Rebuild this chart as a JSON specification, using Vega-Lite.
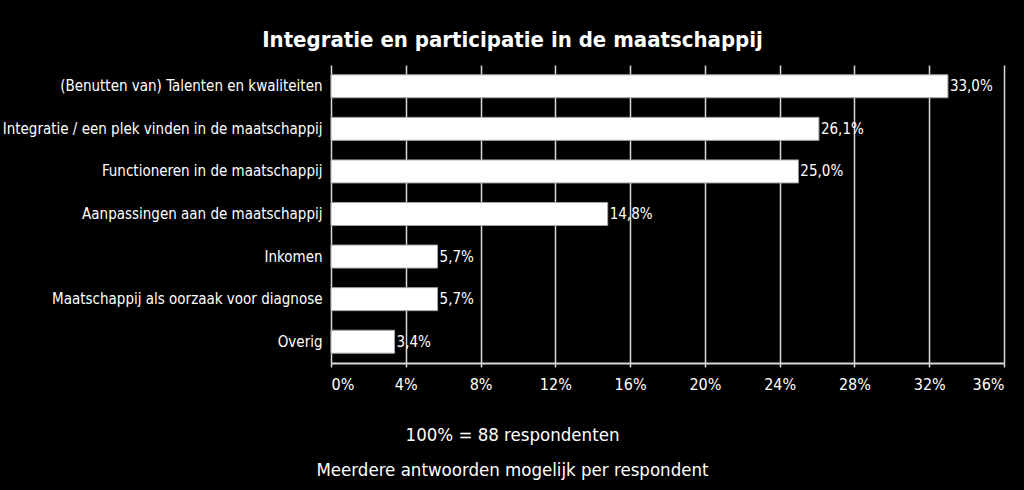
{
  "$schema": "https://vega.github.io/schema/vega-lite/v6.json",
  "width": 673,
  "height": 298,
  "autosize": {"type": "none"},
  "padding": {"left": 331, "top": 65, "right": 20, "bottom": 127},
  "background": "#000000",
  "config": {
    "view": {"stroke": null},
    "font": "DejaVu Sans Condensed, Liberation Sans, sans-serif",
    "locale": {"number": {"decimal": ",", "thousands": ".", "grouping": [3], "currency": ["€", ""]}}
  },
  "title": {
    "text": "Integratie en participatie in de maatschappij",
    "color": "#ffffff",
    "fontSize": 22,
    "fontWeight": "bold",
    "font": "DejaVu Sans Condensed, Liberation Sans, sans-serif",
    "anchor": "middle",
    "dx": -155,
    "offset": 13
  },
  "data": {
    "values": [
      {"categorie": "(Benutten van) Talenten en kwaliteiten", "aandeel": 0.330},
      {"categorie": "Integratie / een plek vinden in de maatschappij", "aandeel": 0.261},
      {"categorie": "Functioneren in de maatschappij", "aandeel": 0.250},
      {"categorie": "Aanpassingen aan de maatschappij", "aandeel": 0.148},
      {"categorie": "Inkomen", "aandeel": 0.057},
      {"categorie": "Maatschappij als oorzaak voor diagnose", "aandeel": 0.057},
      {"categorie": "Overig", "aandeel": 0.034}
    ]
  },
  "encoding": {
    "y": {
      "field": "categorie",
      "type": "nominal",
      "sort": null,
      "scale": {"paddingInner": 0.46, "paddingOuter": 0.23},
      "axis": {
        "title": null,
        "ticks": false,
        "domain": false,
        "labelColor": "#ffffff",
        "labelFontSize": 15,
        "labelPadding": 9,
        "labelLimit": 400
      }
    },
    "x": {
      "field": "aandeel",
      "type": "quantitative",
      "scale": {"domain": [0, 0.36], "nice": false},
      "axis": {
        "values": [0, 0.04, 0.08, 0.12, 0.16, 0.2, 0.24, 0.28, 0.32, 0.36],
        "format": ".0%",
        "grid": true,
        "gridColor": "#d9d9d9",
        "gridWidth": 1.5,
        "domainColor": "#d9d9d9",
        "domainWidth": 2,
        "tickColor": "#d9d9d9",
        "tickSize": 4,
        "tickWidth": 1.5,
        "labelColor": "#ffffff",
        "labelFontSize": 16,
        "labelPadding": 9,
        "title": ["100% = 88 respondenten", "Meerdere antwoorden mogelijk per respondent"],
        "titleColor": "#ffffff",
        "titleFontSize": 18.5,
        "titleFontWeight": "normal",
        "titleLineHeight": 35,
        "titleX": 181,
        "titleY": 77,
        "titleBaseline": "alphabetic",
        "titleAlign": "center"
      }
    }
  },
  "layer": [
    {
      "mark": {"type": "bar", "color": "#ffffff", "stroke": "#a6a6a6", "strokeWidth": 1}
    },
    {
      "mark": {"type": "text", "align": "left", "baseline": "middle", "dx": 2, "color": "#ffffff", "fontSize": 15},
      "encoding": {"text": {"field": "aandeel", "type": "quantitative", "format": ".1%"}}
    }
  ]
}
